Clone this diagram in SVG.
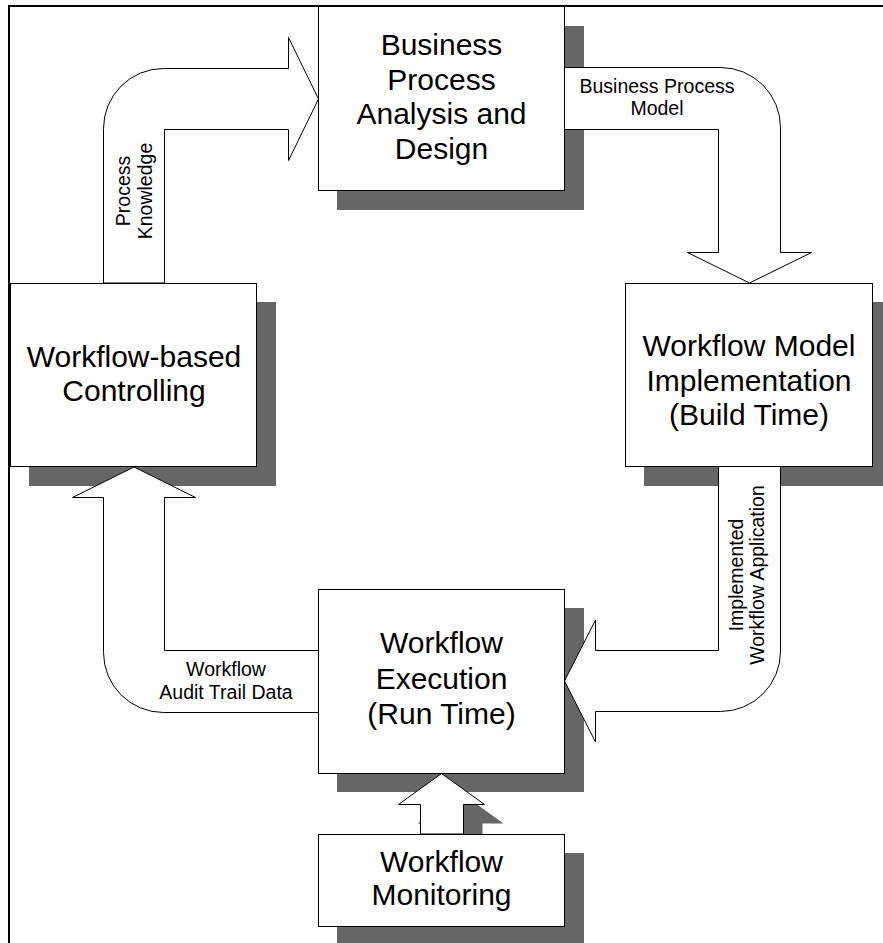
<svg xmlns="http://www.w3.org/2000/svg" width="883" height="943" viewBox="0 0 883 943">
<style>
.box{fill:#fff;stroke:#000;stroke-width:1}
.sh{fill:#666;stroke:none}
.arr{fill:#fff;stroke:#000;stroke-width:1;stroke-linejoin:miter}
.nt{font-family:"Liberation Sans",Arial,sans-serif;font-size:30px;fill:#000;text-anchor:middle}
.lt{font-family:"Liberation Sans",Arial,sans-serif;font-size:19.5px;fill:#000;text-anchor:middle}
</style>
<rect x="0" y="0" width="883" height="943" fill="#fff"/>
<g id="frame" fill="none" stroke="#000" stroke-width="2">
<path d="M9,943 L9,6 L883,6"/>
</g>
<g id="shadows">
<rect class="sh" x="337" y="26" width="247" height="184"/>
<rect class="sh" x="29" y="302" width="247" height="184"/>
<rect class="sh" x="644" y="302" width="247" height="184"/>
<rect class="sh" x="337" y="608" width="247" height="184"/>
<rect class="sh" x="337" y="853" width="247" height="90"/>
</g>
<g id="connectors">
<g id="c-process-knowledge">
<path class="arr" d="M103.5,283 L103.5,128.5 A60,60 0 0 1 163.5,68.5 L288.5,68.5 L288.5,37.5 L318.5,99 L288.5,160.5 L288.5,129.5 L164.5,129.5 L164.5,283 Z"/>
<text class="lt" transform="translate(129.5,191) rotate(-90)">Process</text>
<text class="lt" transform="translate(151.5,191) rotate(-90)">Knowledge</text>
</g>
<g id="c-business-process-model">
<path class="arr" d="M564.5,67.5 L720.5,67.5 A60,60 0 0 1 780.5,127.5 L780.5,252.5 L811.5,252.5 L749.5,283 L687.5,252.5 L718.5,252.5 L718.5,129.5 L564.5,129.5 Z"/>
<text class="lt" x="657" y="92.5">Business Process</text>
<text class="lt" x="657" y="115">Model</text>
</g>
<g id="c-implemented">
<path class="arr" d="M718.5,466.5 L718.5,650.5 L595.5,650.5 L595.5,620 L564.5,681 L595.5,742 L595.5,711.5 L720.5,711.5 A60,60 0 0 0 780.5,651.5 L780.5,466.5 Z"/>
<text class="lt" transform="translate(742.5,575) rotate(-90)">Implemented</text>
<text class="lt" transform="translate(764,575) rotate(-90)">Workflow Application</text>
</g>
<g id="c-audit-trail">
<path class="arr" d="M318.5,650.5 L164.5,650.5 L164.5,497.5 L195.5,497.5 L134,467 L72.5,497.5 L103.5,497.5 L103.5,652.5 A60,60 0 0 0 163.5,712.5 L318.5,712.5 Z"/>
<text class="lt" x="226" y="676">Workflow</text>
<text class="lt" x="226" y="698.5">Audit Trail Data</text>
</g>
<g id="c-monitoring">
<path class="sh" d="M439.5,853 L439.5,823.5 L417.5,823.5 L460.5,792.5 L503.5,823.5 L482.5,823.5 L482.5,853 Z"/>
<path class="arr" d="M420.5,834 L420.5,804.5 L398.5,804.5 L441.5,773.5 L484.5,804.5 L463.5,804.5 L463.5,834 Z"/>
</g>
</g>
<g id="n-bpad">
<rect class="box" x="318.5" y="6.5" width="246" height="184"/>
<text class="nt" x="441.5" y="55">Business</text>
<text class="nt" x="441.5" y="89.5">Process</text>
<text class="nt" x="441.5" y="123.5">Analysis and</text>
<text class="nt" x="441.5" y="158.5">Design</text>
</g>
<g id="n-controlling">
<rect class="box" x="10.5" y="283.5" width="246" height="183"/>
<text class="nt" x="134" y="366.5">Workflow-based</text>
<text class="nt" x="134" y="400.5">Controlling</text>
</g>
<g id="n-wmi">
<rect class="box" x="625.5" y="283.5" width="247" height="183"/>
<text class="nt" x="749" y="356">Workflow Model</text>
<text class="nt" x="749" y="390.5">Implementation</text>
<text class="nt" x="749" y="424.5">(Build Time)</text>
</g>
<g id="n-execution">
<rect class="box" x="318.5" y="589.5" width="246" height="184"/>
<text class="nt" x="441.5" y="653">Workflow</text>
<text class="nt" x="441.5" y="689">Execution</text>
<text class="nt" x="441.5" y="724">(Run Time)</text>
</g>
<g id="n-monitoring">
<rect class="box" x="318.5" y="834.5" width="246" height="92"/>
<text class="nt" x="441.5" y="871.5">Workflow</text>
<text class="nt" x="441.5" y="905">Monitoring</text>
</g>
</svg>
